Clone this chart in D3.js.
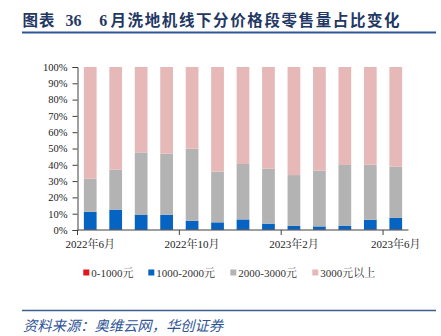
<!DOCTYPE html>
<html><head><meta charset="utf-8">
<script src="https://cdn.jsdelivr.net/npm/d3@7"></script>
<style>
html,body{margin:0;padding:0;background:#fff;}
svg{display:block;}
.serif{font-family:"Liberation Serif","Times New Roman","Noto Serif CJK SC","Noto Sans CJK SC",serif;}
</style></head>
<body>
<script>
const categories = ["2022年6月","2022年7月","2022年8月","2022年9月","2022年10月","2022年11月","2022年12月","2023年1月","2023年2月","2023年3月","2023年4月","2023年5月","2023年6月"];
const seriesNames = ["0-1000元","1000-2000元","2000-3000元","3000元以上"];
const red   = [0.2,0.2,0.1,0.2,0.2,0.1,0.2,0.2,0.2,0.3,0.2,0.3,0.3];
const blue  = [11.0,12.3,9.1,9.2,5.5,4.6,6.3,3.7,2.3,1.9,2.5,6.0,7.1];
const gray  = [20.3,24.5,38.4,37.4,44.2,31.1,34.0,33.7,31.2,34.2,37.2,33.8,31.5];
const pink  = [68.5,63.0,52.4,53.2,50.1,64.2,59.5,62.4,66.3,63.6,60.1,59.9,61.1];
const yTicks = [0,10,20,30,40,50,60,70,80,90,100];
const xLabels = ["2022年6月","2022年10月","2023年2月","2023年6月"];
const colors = ["#E3141B","#0563C1","#B3B3B3","#E6B8B7"];

const W = 441, H = 336;
const svg = d3.select("body").append("svg").attr("width", W).attr("height", H);

// title
const title = svg.append("text").attr("y", 25.5)
  .style("font-family", "'Noto Sans CJK SC', sans-serif").attr("font-weight", 700)
  .attr("font-size", 15.5).attr("fill", "#1F3864");
title.append("tspan").attr("x", 22.5).attr("letter-spacing", 1).text("图表");
title.append("tspan").attr("x", 65.5).style("font-family", "'Liberation Serif', serif").attr("font-size", 16).text("36");
title.append("tspan").attr("x", 99.3).style("font-family", "'Liberation Serif', serif").attr("font-size", 16).text("6");
title.append("tspan").attr("x", 110.5).attr("letter-spacing", 1.6).text("月洗地机线下分价格段零售量占比变化");
svg.append("line").attr("x1", 22).attr("x2", 436).attr("y1", 32.5).attr("y2", 32.5)
  .attr("stroke", "#2F5597").attr("stroke-width", 2);

const keys = seriesNames;
const rows = categories.map((c, i) => ({cat: c, [keys[0]]: red[i], [keys[1]]: blue[i], [keys[2]]: gray[i], [keys[3]]: pink[i]}));
const stacked = d3.stack().keys(keys)(rows);

const x = d3.scaleBand().domain(categories).range([77.5, 408.5]).paddingInner(0.5).paddingOuter(0.25);
const y = d3.scaleLinear().domain([0, 100]).range([230, 67]);
const step = x.step();

const g = svg.append("g");
stacked.forEach((s, si) => {
  g.selectAll(null).data(s).enter().append("rect")
    .attr("x", d => x(d.data.cat))
    .attr("width", x.bandwidth())
    .attr("y", d => y(d[1]))
    .attr("height", d => y(d[0]) - y(d[1]))
    .attr("fill", colors[si]);
});

// y axis
const yAxis = d3.axisLeft(y).tickValues(yTicks).tickFormat(d => d + "%").tickSize(5).tickPadding(5);
const ya = svg.append("g").attr("transform", "translate(77.5,0)").call(yAxis);
ya.attr("font-family", null);
ya.select(".domain").attr("stroke", "#404040");
ya.selectAll(".tick line").attr("stroke", "#404040");
ya.selectAll("text").attr("class", "serif").attr("font-size", 10.5).attr("fill", "#222");

// x axis
const xAxis = d3.axisBottom(x).tickValues(xLabels).tickSize(0).tickPadding(10);
const xa = svg.append("g").attr("transform", "translate(0,230)").call(xAxis);
xa.attr("font-family", null);
xa.select(".domain").remove();
xa.selectAll("text").attr("class", "serif").attr("font-size", 11).attr("fill", "#222");
svg.append("line").attr("x1", 77.5).attr("x2", 408.5).attr("y1", 230).attr("y2", 230)
  .attr("stroke", "#404040").attr("stroke-width", 1);
xa.selectAll(null).data(xLabels).enter().append("line")
  .attr("x1", d => x(d) - (step - x.bandwidth()) / 2)
  .attr("x2", d => x(d) - (step - x.bandwidth()) / 2)
  .attr("y1", 0).attr("y2", 5).attr("stroke", "#404040");

// legend
const legX = [83.3, 148.3, 230.3, 312.3];
const leg = svg.append("g");
seriesNames.forEach((n, i) => {
  leg.append("rect").attr("x", legX[i]).attr("y", 269.5).attr("width", 6).attr("height", 6).attr("fill", colors[i]);
  leg.append("text").attr("x", legX[i] + 8).attr("y", 276.5).attr("class", "serif")
    .attr("font-size", 11).attr("fill", "#333").text(n);
});

// bottom line and source
svg.append("line").attr("x1", 22).attr("x2", 436).attr("y1", 310.5).attr("y2", 310.5)
  .attr("stroke", "#3B5F8F").attr("stroke-width", 1.5);
svg.append("text").attr("x", 23).attr("y", 331)
  .style("font-family", "'Noto Sans CJK SC', sans-serif").attr("font-style", "italic")
  .attr("font-size", 14.3).attr("fill", "#2F5597")
  .text("资料来源：奥维云网，华创证券");
</script>
</body></html>
